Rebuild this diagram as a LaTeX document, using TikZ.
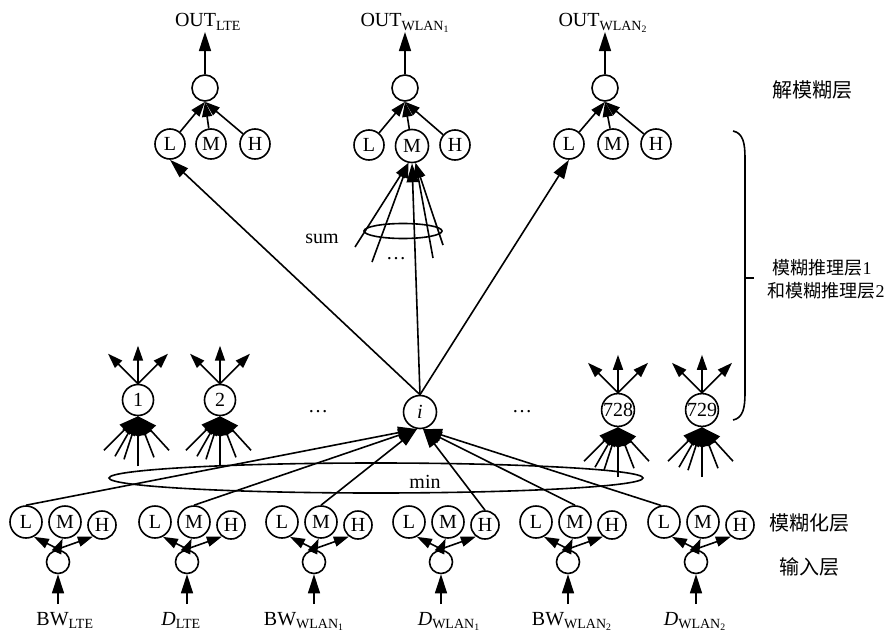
\documentclass[tikz,border=0pt]{standalone}
\usepackage{fontspec}
\setmainfont{Liberation Serif}
\newfontfamily\cjk{Noto Sans CJK SC}
\usetikzlibrary{arrows.meta,shapes.geometric,calc}
\begin{document}
\begin{tikzpicture}[x=1pt,y=-1pt,line width=1.6pt,
  every node/.style={font=\fontsize{20}{24}\selectfont},
  cir/.style={circle,draw,inner sep=0pt,minimum size=#1},
  arr/.style={-{Triangle[length=15pt,width=10pt]}},
  bigarr/.style={-{Triangle[length=19pt,width=12pt]}},
  fanarr/.style={-{Triangle[length=19pt,width=14pt]}},
  ell/.style={draw,ellipse,inner sep=0pt},
  cjklab/.style={font=\fontsize{18}{22}\selectfont}]
\useasboundingbox (0,0) rectangle (889,637);

% ---------- defuzzification layer ----------
\node[cir=26pt] (o1) at (205,88) {};
\node[cir=30pt] (tL1) at (170,144) {L};
\node[cir=30pt] (tM1) at (211,144) {M};
\node[cir=30pt] (tH1) at (255,144) {H};
\node[cir=26pt] (o2) at (405,88) {};
\node[cir=30pt] (tL2) at (369,145) {L};
\node[cir=33pt] (tM2) at (412,146) {M};
\node[cir=30pt] (tH2) at (455,145) {H};
\node[cir=26pt] (o3) at (605,88) {};
\node[cir=30pt] (tL3) at (569,144) {L};
\node[cir=30pt] (tM3) at (613,144) {M};
\node[cir=30pt] (tH3) at (656,144) {H};
\foreach \k in {1,2,3}{
  \draw[arr] (tL\k) -- (o\k.south);
  \draw[arr] (tM\k) -- (o\k.south);
  \draw[arr] (tH\k) -- (o\k.south);
}
\coordinate (oc1) at (205,32);
\coordinate (oc2) at (405,32);
\coordinate (oc3) at (605,32);
\draw[bigarr] (o1) -- (oc1);
\draw[bigarr] (o2) -- (oc2);
\draw[bigarr] (o3) -- (oc3);
\node[anchor=base] (out1) at (208,27) {OUT\textsubscript{LTE}};
\node[anchor=base] (out2) at (405,27) {OUT\textsubscript{WLAN\textsubscript{1}}};
\node[anchor=base] (out3) at (603,27) {OUT\textsubscript{WLAN\textsubscript{2}}};

% ---------- sum ----------
\node[ell,minimum width=78pt,minimum height=15pt] (sumE) at (403,231) {};
\node (sumT) at (322,239) {sum};
\node[anchor=base] (sdots) at (396,259) {\ldots};
\coordinate (s1) at (355,247);
\coordinate (s2) at (372,262);
\coordinate (s3) at (433,258);
\coordinate (s4) at (443,245);
\draw[arr] (s1) -- (tM2.258);
\draw[arr] (s2) -- (tM2.258);
\draw[arr] (s3) -- (tM2.282);
\draw[arr] (s4) -- (tM2.282);

% ---------- rule layer ----------
\node[cir=31pt] (r1) at (138,400) {1};
\node[cir=31pt] (r2) at (220,400) {2};
\node[cir=33pt] (ri) at (420,412) {\textit{i}};
\node[cir=32pt] (r728) at (618,410) {728};
\node[cir=32pt] (r729) at (702,410) {729};
\node[anchor=base] (d1) at (318,412) {\ldots};
\node[anchor=base] (d2) at (522,412) {\ldots};
\foreach \n in {r1,r2,r728,r729}{
  \foreach \dx/\dy in {-30/-30,0/-38,30/-30}
    \draw[arr] (\n.north) -- ++(\dx,\dy);
  \foreach \dx/\dy in {-34/34,-23/40,-14/43,0/50,16/41,31/34}
    \draw[fanarr] ($(\n.south)+(\dx,\dy)$) -- (\n.south);
}
\draw[bigarr] (ri.north) -- (tL1.south);
\draw[bigarr] (ri.north) -- (tM2.south);
\draw[bigarr] (ri.north) -- (tL3.south);

% ---------- min ----------
\node[ell,minimum width=534pt,minimum height=30pt] (minE) at (376,478) {};
\node (minT) at (425,482) {min};

% ---------- fuzzification and input layers ----------
\foreach \i/\x in {1/58,2/187,3/314,4/441,5/568,6/696}{
  \node[cir=23pt] (in\i) at (\x,562) {};
  \node[cir=32pt] (fL\i) at ({\x-32},522) {L};
  \node[cir=32pt] (fM\i) at ({\x+7},522) {M};
  \node[cir=28pt] (fH\i) at ({\x+44},525) {H};
  \coordinate (ip\i) at (\x,549);
  \draw[arr] (ip\i) -- (fL\i.-62);
  \draw[arr] (ip\i) -- (fM\i.-98);
  \draw[arr] (ip\i) -- (fH\i.-128);
  \coordinate (ia\i) at (\x,604);
  \draw[bigarr] (ia\i) -- (in\i);
}
\draw[bigarr] (fL1.north) -- (ri.260);
\draw[bigarr] (fM2.north) -- (ri.260);
\draw[bigarr] (fM3.north) -- (ri.260);
\draw[bigarr] (fH4.north) -- (ri.280);
\draw[bigarr] (fM5.north) -- (ri.280);
\draw[bigarr] (fL6.100) -- (ri.280);

\node[anchor=base] (x1) at (65,625) {BW\textsubscript{LTE}};
\node[anchor=base] (x2) at (181,625) {\textit{D}\textsubscript{LTE}};
\node[anchor=base] (x3) at (304,625) {BW\textsubscript{WLAN\textsubscript{1}}};
\node[anchor=base] (x4) at (449,625) {\textit{D}\textsubscript{WLAN\textsubscript{1}}};
\node[anchor=base] (x5) at (572,625) {BW\textsubscript{WLAN\textsubscript{2}}};
\node[anchor=base] (x6) at (695,625) {\textit{D}\textsubscript{WLAN\textsubscript{2}}};

% ---------- layer labels ----------
\node (lab1) at (812,90) {\cjk 解模糊层};
\node[cjklab] (lab2) at (822,268) {{\cjk 模糊推理层}1};
\node[cjklab] (lab3) at (826,291) {{\cjk 和模糊推理层}2};
\node (lab4) at (809,523) {\cjk 模糊化层};
\node (lab5) at (809,567) {\cjk 输入层};
\draw (733,131) .. controls (743,133) and (745,143) .. (745,158)
  -- (745,393) .. controls (745,408) and (743,418) .. (733,420);
\draw (745,278) -- (754,278);
\end{tikzpicture}
\end{document}
